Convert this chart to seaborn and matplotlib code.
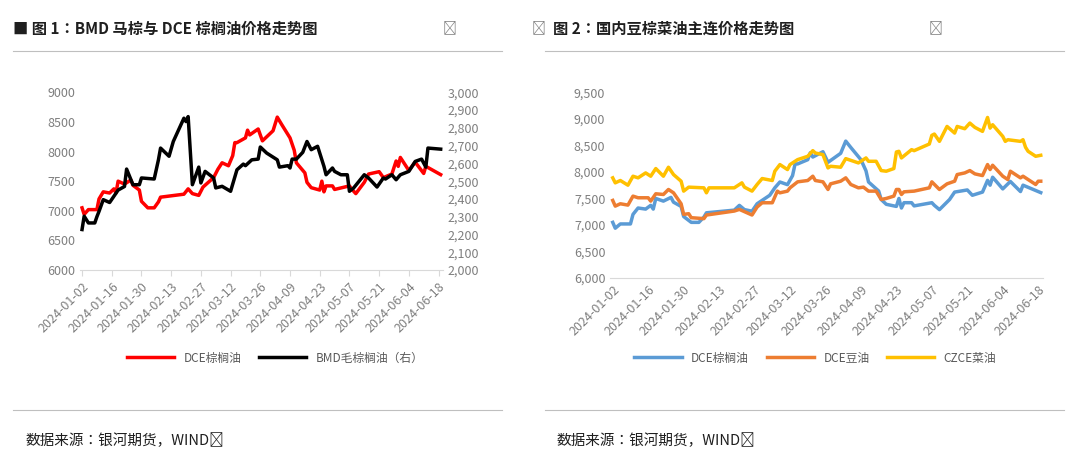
import matplotlib
matplotlib.use("Agg")
import matplotlib.pyplot as plt
from matplotlib import font_manager
import seaborn as sns
import pandas as pd
import numpy as np

cjk = [f.name for f in font_manager.fontManager.ttflist if "CJK" in f.name]
pref = [n for n in ["Noto Sans CJK SC", "Noto Sans CJK JP", "Noto Sans CJK TC", "Noto Sans CJK KR"] if n in cjk]
fam = (pref[:1] or cjk[:1])
plt.rcParams["font.family"] = "sans-serif"
plt.rcParams["font.sans-serif"] = fam + ["DejaVu Sans"]
plt.rcParams["axes.unicode_minus"] = False

palm_dates = ["01-02","01-03","01-05","01-09","01-10","01-12","01-15","01-17","01-18","01-19","01-22","01-25","01-26","01-29","01-30","02-02","02-05","02-07","02-08","02-19","02-21","02-23","02-26","02-28","03-04","03-06","03-08","03-11","03-13","03-14","03-15","03-19","03-20","03-21","03-25","03-27","04-01","04-03","04-05","04-09","04-11","04-12","04-16","04-17","04-19","04-23","04-24","04-25","04-26","04-29","04-30","05-07","05-08","05-10","05-14","05-16","05-21","05-23","05-27","05-29","05-30","05-31","06-04","06-07","06-11","06-12","06-19"]
palm_vals = [7050,6940,7020,7020,7200,7320,7300,7370,7300,7500,7450,7520,7430,7350,7160,7050,7050,7150,7230,7280,7370,7290,7260,7400,7560,7700,7810,7760,7930,8150,8150,8230,8360,8280,8380,8180,8350,8580,8460,8230,8020,7810,7640,7480,7390,7350,7500,7320,7420,7420,7360,7420,7370,7290,7480,7620,7660,7560,7620,7840,7750,7900,7680,7820,7630,7750,7610]

bmd_dates = ["01-02","01-03","01-05","01-08","01-09","01-10","01-12","01-15","01-17","01-19","01-22","01-23","01-26","01-29","01-30","02-05","02-07","02-08","02-12","02-14","02-19","02-20","02-21","02-23","02-26","02-27","02-29","03-04","03-05","03-08","03-12","03-15","03-18","03-19","03-22","03-25","03-26","03-29","04-03","04-04","04-08","04-09","04-10","04-12","04-15","04-17","04-19","04-22","04-25","04-26","04-29","04-30","05-03","05-06","05-07","05-09","05-14","05-16","05-20","05-23","05-24","05-27","05-29","05-31","06-04","06-07","06-10","06-12","06-13","06-19"]
bmd_vals = [2228,2303,2265,2265,2300,2330,2396,2380,2415,2450,2470,2568,2480,2480,2518,2512,2620,2686,2640,2723,2854,2835,2863,2480,2579,2490,2555,2518,2462,2471,2443,2564,2596,2587,2620,2624,2692,2658,2620,2579,2587,2574,2624,2624,2662,2723,2677,2696,2583,2536,2574,2555,2536,2536,2443,2462,2536,2518,2467,2518,2512,2536,2508,2536,2555,2611,2624,2579,2686,2680]

soy_dates = ["01-02","01-03","01-05","01-08","01-10","01-12","01-16","01-17","01-19","01-22","01-24","01-26","01-29","01-30","02-01","02-02","02-07","02-08","02-19","02-21","02-26","02-28","03-01","03-05","03-07","03-08","03-11","03-12","03-15","03-19","03-21","03-22","03-25","03-27","03-28","04-01","04-03","04-05","04-08","04-10","04-12","04-15","04-17","04-19","04-22","04-23","04-24","04-25","04-26","04-30","05-06","05-07","05-10","05-13","05-16","05-17","05-20","05-22","05-24","05-27","05-29","05-30","05-31","06-04","06-06","06-07","06-11","06-12","06-17","06-18","06-19"]
soy_vals = [7463,7356,7400,7375,7544,7513,7513,7450,7588,7575,7669,7606,7400,7200,7213,7138,7120,7188,7263,7294,7188,7338,7419,7419,7638,7606,7638,7700,7813,7838,7919,7838,7813,7669,7775,7825,7888,7763,7700,7713,7638,7638,7481,7500,7544,7669,7669,7575,7625,7638,7700,7813,7669,7775,7825,7950,7981,8025,7963,7931,8138,8044,8125,7919,7856,8013,7888,7919,7763,7825,7825]

rape_dates = ["01-02","01-03","01-05","01-08","01-10","01-12","01-15","01-17","01-19","01-22","01-24","01-26","01-29","01-30","02-01","02-07","02-08","02-09","02-19","02-22","02-23","02-26","02-28","03-01","03-05","03-06","03-08","03-11","03-12","03-15","03-19","03-21","03-22","03-25","03-27","03-28","04-01","04-03","04-08","04-11","04-12","04-15","04-17","04-19","04-22","04-23","04-24","04-25","04-29","04-30","05-06","05-07","05-08","05-10","05-13","05-16","05-17","05-20","05-22","05-24","05-27","05-29","05-30","05-31","06-04","06-05","06-06","06-11","06-12","06-13","06-14","06-17","06-19"]
rape_vals = [7888,7794,7838,7750,7919,7888,7981,7919,8063,7919,8088,7950,7825,7638,7713,7700,7606,7700,7700,7794,7713,7638,7763,7875,7838,8013,8138,8044,8138,8231,8294,8400,8356,8325,8075,8106,8088,8250,8169,8263,8200,8200,8025,8013,8063,8375,8388,8263,8419,8400,8525,8688,8713,8575,8856,8731,8856,8813,8919,8838,8763,9025,8825,8888,8669,8575,8606,8575,8606,8463,8388,8294,8313]

tick_dates = ["01-02","01-16","01-30","02-13","02-27","03-12","03-26","04-09","04-23","05-07","05-21","06-04","06-18"]

def df(d, v):
    return pd.DataFrame({"date": pd.to_datetime(["2024-" + x for x in d]), "v": v})

gray = "#7f7f7f"
fig = plt.figure(figsize=(10.8, 4.73), dpi=100)

def style_x(ax):
    ticks = pd.to_datetime(["2024-" + t for t in tick_dates])
    ax.set_xticks(ticks)
    ax.set_xticklabels(["2024-" + t for t in tick_dates], rotation=45, ha="right",
                       rotation_mode="anchor", fontsize=9, color=gray)
    ax.set_xlim(pd.Timestamp("2024-01-01"), pd.Timestamp("2024-06-20"))
    ax.set_xlabel(""); ax.set_ylabel("")
    for s in ["top", "right", "left"]:
        ax.spines[s].set_visible(False)
    ax.spines["bottom"].set_color("#d9d9d9")
    ax.tick_params(axis="y", length=0, labelsize=9, labelcolor=gray)
    ax.tick_params(axis="x", color="#d9d9d9", length=4)

# Left
ax1 = fig.add_axes([0.074, 0.429, 0.336, 0.376])
sns.lineplot(data=df(palm_dates, palm_vals), x="date", y="v", ax=ax1, color="#ff0000", lw=2.5, label="DCE棕榈油", legend=False)
ax1.set_ylim(6000, 9000)
ax1.set_yticks(np.arange(6000, 9001, 500))
style_x(ax1)
ax1b = ax1.twinx()
sns.lineplot(data=df(bmd_dates, bmd_vals), x="date", y="v", ax=ax1b, color="black", lw=2.5, label="BMD毛棕榈油（右）", legend=False)
ax1b.set_ylim(2000, 3000)
ax1b.set_yticks(np.arange(2000, 3001, 100))
ax1b.set_yticklabels([f"{v:,}" for v in range(2000, 3001, 100)])
for s in ax1b.spines.values():
    s.set_visible(False)
ax1b.tick_params(axis="y", length=0, labelsize=9, labelcolor=gray)
ax1b.set_ylabel("")
h1, l1 = ax1.get_legend_handles_labels()
h2, l2 = ax1b.get_legend_handles_labels()
fig.legend(h1 + h2, l1 + l2, loc="center", bbox_to_anchor=(0.255, 0.243), ncol=2,
           frameon=False, fontsize=8.5, handlelength=4, labelcolor="#595959", columnspacing=1.5)

# Right
ax2 = fig.add_axes([0.565, 0.412, 0.401, 0.393])
sns.lineplot(data=df(palm_dates, palm_vals), x="date", y="v", ax=ax2, color="#5b9bd5", lw=2.5, label="DCE棕榈油", legend=False)
sns.lineplot(data=df(soy_dates, soy_vals), x="date", y="v", ax=ax2, color="#ed7d31", lw=2.5, label="DCE豆油", legend=False)
sns.lineplot(data=df(rape_dates, rape_vals), x="date", y="v", ax=ax2, color="#ffc000", lw=2.5, label="CZCE菜油", legend=False)
ax2.set_ylim(6000, 9500)
ax2.set_yticks(np.arange(6000, 9501, 500))
ax2.set_yticklabels([f"{v:,}" for v in range(6000, 9501, 500)])
style_x(ax2)
ax2.tick_params(axis="x", length=0)
h3, l3 = ax2.get_legend_handles_labels()
fig.legend(h3, l3, loc="center", bbox_to_anchor=(0.755, 0.243), ncol=3, frameon=False,
           fontsize=8.5, handlelength=4, labelcolor="#595959", columnspacing=1.5)

# Titles, frames, sources
fig.text(0.012, 0.94, "■ 图 1：BMD 马棕与 DCE 棕榈油价格走势图", fontsize=11, fontweight="bold", color="#1f1f1f", va="center")
fig.text(0.41, 0.94, "↵", fontsize=10, color=gray, va="center")
fig.text(0.492, 0.94, "↵", fontsize=10, color=gray, va="center")
fig.text(0.512, 0.94, "图 2：国内豆棕菜油主连价格走势图", fontsize=11, fontweight="bold", color="#1f1f1f", va="center")
fig.text(0.86, 0.94, "↵", fontsize=10, color=gray, va="center")
for x0, x1 in [(0.012, 0.465), (0.505, 0.985)]:
    for y in [0.893, 0.133]:
        fig.add_artist(plt.Line2D([x0, x1], [y, y], color="#bfbfbf", lw=0.8))
fig.text(0.024, 0.068, "数据来源：银河期货，WIND↵", fontsize=10.5, color="#1f1f1f", va="center")
fig.text(0.515, 0.068, "数据来源：银河期货，WIND↵", fontsize=10.5, color="#1f1f1f", va="center")

fig.savefig("out.png", dpi=100)
